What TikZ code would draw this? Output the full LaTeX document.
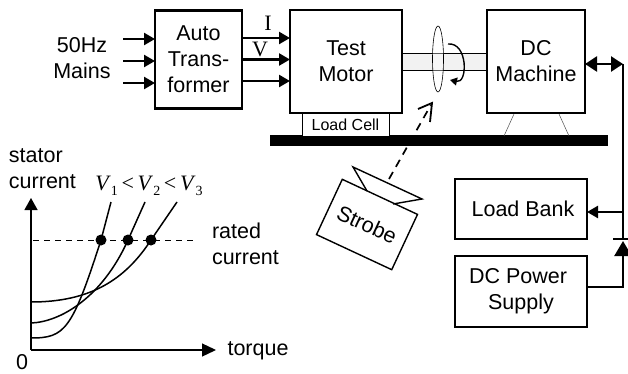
\documentclass[tikz,border=0pt]{standalone}
\usepackage{fontspec}
\setmainfont{Liberation Sans}
\newfontfamily\serifcap{Liberation Serif}
\usetikzlibrary{arrows.meta,calc,shapes.geometric}
\tikzset{
  blk/.style={draw=black,line width=2.3pt,fill=white,inner sep=0pt,outer sep=0pt,align=center,font=\fontsize{21.5}{26}\selectfont},
  lbl/.style={inner sep=0pt,outer sep=0pt,align=center,font=\fontsize{21.5}{26}\selectfont},
  wire/.style={line width=2.4pt,-{Triangle[length=11pt,width=12pt]}},
  thinline/.style={line width=0.5pt,draw=black!70},
  curve/.style={line width=1.5pt},
  dot/.style={circle,fill=black,inner sep=0pt,minimum size=11pt},
  serifl/.style={inner sep=0pt,font=\fontsize{22}{22}\selectfont\serifcap}
}
\newcommand{\subn}[1]{\raisebox{-5pt}{\fontsize{14}{14}\selectfont #1}}
\begin{document}
\begin{tikzpicture}[x=1pt,y=-1pt]
\useasboundingbox (0,0) rectangle (628,374);
% bench
\node[fill=black,minimum width=338pt,minimum height=11pt,inner sep=0pt,outer sep=0pt] (bench) at (438.5,141) {};
% stand legs
\coordinate (legA) at (514,114); \coordinate (legB) at (504,136);
\coordinate (legC) at (559,114); \coordinate (legD) at (569,136);
\draw[thinline] (legA) -- (legB); \draw[thinline] (legC) -- (legD);
% shaft
\node[draw=black,line width=0.7pt,fill=black!5,minimum width=87pt,minimum height=17pt,inner sep=0pt,outer sep=0pt] (shaft) at (443.5,62) {};
% boxes
\node[blk,minimum width=87pt,minimum height=98pt] (auto) at (198.5,59.5) {Auto\\Trans-\\former};
\node[blk,minimum width=112pt,minimum height=103pt] (motor) at (346,61.5) {Test\\Motor};
\node[blk,minimum width=98pt,minimum height=103pt] (dcm) at (536,61.5) {DC\\Machine};
\node[draw=black,line width=0.8pt,fill=white,minimum width=87pt,minimum height=23pt,inner sep=0pt,outer sep=0pt,font=\fontsize{16}{16}\selectfont] (cell) at (345.5,124.5) {Load Cell};
\node[blk,minimum width=132pt,minimum height=60pt] (bank) at (521,209) {\hspace{4pt}Load Bank};
\node[blk,minimum width=132pt,minimum height=71pt] (psu) at (521,291.5) {\hspace{-6pt}DC Power\\Supply};
% disc and rotation
\node[draw=black,line width=0.6pt,ellipse,fill=white,fill opacity=0.35,minimum width=11pt,minimum height=66pt,inner sep=0pt] (disc) at (438,59) {};
\coordinate (rotA) at (448,44); \coordinate (rotB) at (450,80);
\draw[line width=1.4pt,-{Triangle[length=7pt,width=8pt]}] (rotA) .. controls (468,42) and (468,84) .. (rotB);
% mains
\node[lbl] (mains) at (82,58) {50Hz\\Mains};
\coordinate (inA) at (123,39); \coordinate (inB) at (123,61); \coordinate (inC) at (123,83);
\draw[wire] (inA) -- (inA -| auto.west);
\draw[wire] (inB) -- (inB -| auto.west);
\draw[wire] (inC) -- (inC -| auto.west);
% outputs
\coordinate (outA) at (242,38); \coordinate (outB) at (242,59.5); \coordinate (outC) at (242,81);
\draw[wire] (outA) -- (outA -| motor.west);
\draw[wire] (outB) -- (outB -| motor.west);
\draw[wire] (outC) -- (outC -| motor.west);
\node[serifl] (ilab) at (268,23) {I};
\node[serifl] (vlab) at (260,49) {V};
% DC wiring
\coordinate (bus) at (623,64);
\coordinate (busbar) at (623,239);
\coordinate (busin) at (623,287);
\coordinate (banktap) at (623,212);
\draw[line width=2.4pt,{Triangle[length=12pt,width=15pt]}-{Triangle[length=12pt,width=15pt]}] (dcm.east |- bus) -- (bus);
\draw[line width=2.4pt] (bus) -- (busbar);
\draw[wire] (banktap) -- (banktap -| bank.east);
\coordinate (barL) at (613,239); \coordinate (barR) at (628,239);
\draw[line width=2.2pt] (barL) -- (barR);
\draw[line width=2.4pt,-{Triangle[length=15pt,width=17pt]}] (psu.east |- busin) -- (busin) -- (623,241);
% strobe
\node[draw=black,line width=1.4pt,fill=white,minimum width=83pt,minimum height=61pt,inner sep=0pt,rotate=-25,font=\fontsize{21.5}{21}\selectfont] (strobe) at (367,224.5) {Strobe};
\coordinate (lensA) at (367,191); \coordinate (lensB) at (353,167); \coordinate (lensC) at (422,199); \coordinate (lensD) at (393,204);
\draw[line width=1.4pt,line join=miter] (lensA) -- (lensB) -- (lensC) -- (lensD);
\coordinate (flashA) at (389,179); \coordinate (flashB) at (432,103);
\draw[line width=1.7pt,dash pattern=on 8pt off 6pt] (flashA) -- ($(flashA)!0.97!(flashB)$);
\draw[line width=1.8pt] (418,109) -- (flashB) -- (430,122);
% chart
\coordinate (org) at (31,350);
\draw[line width=1.3pt,-{Triangle[length=12pt,width=13pt]}] (org) -- (31,198);
\draw[line width=1.3pt,-{Triangle[length=14pt,width=13pt]}] (org) -- (216,350);
\node[lbl,anchor=west,align=left] (ylab) at (9,168.5) {stator\\current};
\node[lbl] (xlab) at (258,351) {torque};
\node[lbl] (zero) at (22,362) {0};
\coordinate (dashL) at (33,240); \coordinate (dashR) at (195,240);
\draw[line width=1pt,dash pattern=on 6pt off 5pt] (dashL) -- (dashR);
\draw[curve] (31,338) .. controls (65,338) and (72,330) .. (101,240) -- (111,202);
\draw[curve] (31,323) .. controls (60,322) and (102,298) .. (128,240) -- (145,202);
\draw[curve] (31,302) .. controls (90,302) and (125,280) .. (151,240) -- (177,202);
\node[dot] (d1) at (101,240) {};
\node[dot] (d2) at (128,240) {};
\node[dot] (d3) at (151,240) {};
\node[lbl,anchor=west,align=left] (rated) at (212,244) {rated\\current};
\node[inner sep=0pt,font=\fontsize{22}{22}\selectfont\serifcap] (vs) at (149,186) {\textit{V}\subn{1}\,<\,\textit{V}\subn{2}\,<\,\textit{V}\subn{3}};
\end{tikzpicture}
\end{document}
